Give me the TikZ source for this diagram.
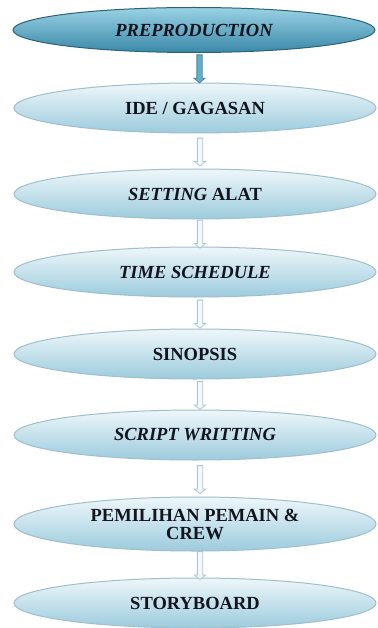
\documentclass[tikz,border=0pt]{standalone}
\usepackage{fontspec}
\setmainfont{Liberation Serif}
\usetikzlibrary{shapes.geometric,shapes.arrows}
\definecolor{elltop}{HTML}{EEF7FA}
\definecolor{ellmid}{HTML}{C8E4EE}
\definecolor{ellbot}{HTML}{9CCBDD}
\definecolor{ellborder}{HTML}{9FBFCB}
\definecolor{hdtop}{HTML}{9AD2E4}
\definecolor{hdmid}{HTML}{5FB0CB}
\definecolor{hdbot}{HTML}{3A88A8}
\definecolor{hdborder}{HTML}{2A6378}
\definecolor{txt}{HTML}{14141E}
\definecolor{arrline}{HTML}{A9C8D4}
\definecolor{arrfill}{HTML}{F4FAFC}
\begin{document}
\begin{tikzpicture}[x=1pt,y=-1pt,
  stage/.style={ellipse, draw=ellborder, line width=1pt,
    top color=elltop, middle color=ellmid, bottom color=ellbot,
    minimum width=362pt, minimum height=50pt, inner sep=0pt,
    font=\fontsize{18.5}{18}\selectfont\bfseries, text=txt, align=center},
  headstage/.style={stage, draw=hdborder, top color=hdtop, middle color=hdmid, bottom color=hdbot},
  flowarrow/.style={single arrow, rotate=-90, draw=arrline, fill=arrfill, line width=0.8pt,
    minimum height=28pt, minimum width=11pt, inner sep=2.2pt,
    single arrow head extend=2.8pt, single arrow tip angle=100},
  headarrow/.style={flowarrow, draw=hdborder!80, fill=hdmid}
]
\useasboundingbox (0,0) rectangle (377,628);
\fill[white] (0,0) rectangle (377,628);
\node[headstage, minimum height=45pt] (s1) at (194,30) {\itshape PREPRODUCTION};
\node[stage] (s2) at (195,108) {IDE / GAGASAN};
\node[stage] (s3) at (195,194) {\itshape SETTING\upshape{} ALAT};
\node[stage] (s4) at (195,272) {\itshape TIME SCHEDULE};
\node[stage] (s5) at (195,354) {SINOPSIS};
\node[stage] (s6) at (195,435) {\itshape SCRIPT WRITTING};
\node[stage, minimum height=54pt] (s7) at (195,524) {PEMILIHAN PEMAIN \&\\CREW};
\node[stage] (s8) at (195,603) {STORYBOARD};
\path ([xshift=5pt]s1.south) -- node[headarrow]{} ([xshift=5pt]s2.north);
\foreach \a/\b in {s2/s3,s3/s4,s4/s5,s5/s6,s6/s7,s7/s8}
  \path ([xshift=5pt]\a.south) -- node[flowarrow]{} ([xshift=5pt]\b.north);
\end{tikzpicture}
\end{document}
